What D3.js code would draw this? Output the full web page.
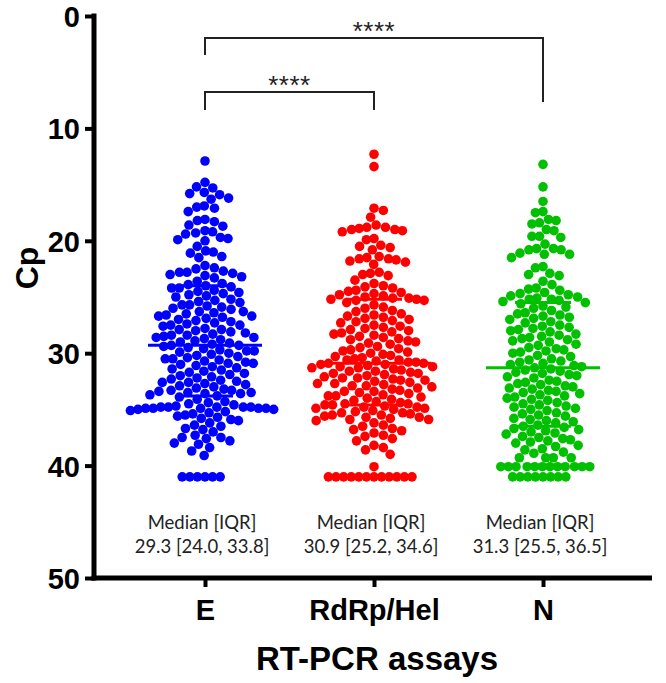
<!DOCTYPE html>
<html>
<head>
<meta charset="utf-8">
<script src="https://cdn.jsdelivr.net/npm/d3@7"></script>
<style>
  html, body { margin: 0; padding: 0; background: #fff; }
  svg { display: block; }
</style>
</head>
<body>
<svg id="chart" width="666" height="683"></svg>
<script>
// ---------------- data ----------------
const categories = ["E", "RdRp/Hel", "N"];
const yTicks = [0, 10, 20, 30, 40, 50];

const valuesE = [
  12.9, 14.8, 15.2, 15.3, 15.7, 15.8, 15.9, 16.2, 16.3, 16.9, 17.0, 17.1, 17.4,
  18.1, 18.2, 18.3, 18.6, 18.7, 19.1, 19.2, 19.3, 19.4, 19.7, 19.8, 19.9, 20.0,
  20.5, 20.9, 21.0, 21.1, 21.4, 21.5, 22.2, 22.4, 22.5, 22.7, 22.8, 22.8, 22.9, 23.0, 23.1, 23.2, 23.3, 23.6, 23.8, 23.9,
  24.0, 24.1, 24.2, 24.2, 24.4, 24.5, 24.6, 24.7, 24.8, 24.9,
  25.0, 25.2, 25.3, 25.4, 25.5, 25.7, 25.7, 25.8, 25.9,
  26.0, 26.1, 26.3, 26.3, 26.4, 26.5, 26.6, 26.7, 26.7, 26.8, 26.9,
  27.0, 27.1, 27.2, 27.3, 27.4, 27.5, 27.5, 27.6, 27.8, 27.9, 27.9,
  28.0, 28.1, 28.2, 28.3, 28.4, 28.4, 28.5, 28.6, 28.6, 28.7, 28.8, 28.9, 29.0,
  29.1, 29.2, 29.3, 29.3, 29.4, 29.5, 29.6, 29.7, 29.8, 29.8, 29.9, 30.0,
  30.1, 30.2, 30.3, 30.4, 30.5, 30.5, 30.6, 30.7, 30.8, 30.9, 30.9,
  31.0, 31.1, 31.2, 31.3, 31.4, 31.5, 31.6, 31.7, 31.8, 31.9,
  32.0, 32.1, 32.2, 32.3, 32.4, 32.5, 32.6, 32.6, 32.7, 32.8, 32.9,
  33.0, 33.1, 33.2, 33.3, 33.3, 33.4, 33.5, 33.5, 33.6, 33.6, 33.7, 33.8, 33.9,
  34.1, 34.3, 34.4, 34.5, 34.6, 34.7, 34.8, 34.8, 34.8, 34.8, 34.8,
  34.9, 34.9, 34.9, 34.9, 34.9, 35.0, 35.0,
  35.1, 35.2, 35.3, 35.4, 35.5, 35.6, 35.7, 35.8, 35.9, 36.0,
  36.2, 36.4, 36.5, 36.7, 36.8, 37.0,
  37.3, 37.5, 37.5, 37.6, 37.8, 38.0,
  38.1, 38.4, 38.7, 39.1,
  41.0, 41.0, 41.0, 41.0, 41.0, 41.0
];

const valuesRdRp = [
  12.3, 13.4,
  17.1, 17.3, 17.9,
  18.6, 18.8, 18.8, 18.9, 19.0, 19.0, 19.1, 19.2,
  19.8, 19.9,
  20.4, 20.5, 20.6, 20.8,
  21.4, 21.5, 21.6, 21.6, 21.7, 21.8, 21.9, 22.1,
  22.8, 22.9, 23.0, 23.1, 23.5, 23.8,
  24.0, 24.1, 24.2, 24.4, 24.5, 24.6, 24.7, 24.8, 24.9,
  25.0, 25.1, 25.1, 25.2, 25.2, 25.3, 25.3, 25.5, 25.7, 25.9,
  26.0, 26.2, 26.3, 26.5, 26.6, 26.7, 26.8, 26.9,
  27.0, 27.1, 27.2, 27.3, 27.5, 27.6, 27.7, 27.8, 27.9, 28.0,
  28.1, 28.2, 28.3, 28.4, 28.5, 28.6, 28.7, 28.8, 28.9,
  29.0, 29.1, 29.2, 29.4, 29.5, 29.6, 29.7, 29.8, 29.9, 30.0,
  30.1, 30.2, 30.3, 30.4, 30.5, 30.6, 30.6, 30.7, 30.8, 30.8, 30.9, 30.9, 31.0, 31.0,
  31.1, 31.2, 31.2, 31.3, 31.3, 31.4, 31.5, 31.6, 31.6, 31.7, 31.8, 31.8, 31.9, 32.0,
  32.1, 32.2, 32.2, 32.3, 32.4, 32.4, 32.5, 32.6, 32.7, 32.7, 32.8, 32.9, 32.9, 33.0,
  33.1, 33.2, 33.3, 33.4, 33.4, 33.5, 33.6, 33.7, 33.8, 33.8, 33.9, 34.0,
  34.1, 34.2, 34.3, 34.4, 34.5, 34.5, 34.6, 34.6, 34.7, 34.8, 34.8, 34.9, 34.9, 35.0,
  35.1, 35.2, 35.3, 35.3, 35.4, 35.5, 35.5, 35.6, 35.7, 35.7, 35.8, 35.9, 35.9, 36.0,
  36.2, 36.4, 36.5, 36.7, 36.8, 36.9,
  37.1, 37.3, 37.4, 37.6, 37.8,
  38.2, 38.4, 38.6, 39.0, 40.1,
  41.0, 41.0, 41.0, 41.0, 41.0, 41.0, 41.0, 41.0, 41.0, 41.0, 41.0, 41.0
];

const valuesN = [
  13.2, 15.2, 16.5, 17.4, 17.5,
  18.1, 18.2, 18.4, 18.5, 19.0, 19.1, 19.6, 19.6, 19.7,
  20.3, 20.7, 20.7, 20.8, 20.8, 21.1, 21.2, 21.2, 21.5,
  22.3, 22.4, 22.9, 23.0, 23.1, 23.6, 23.9,
  24.2, 24.3, 24.4, 24.6, 24.7, 24.8, 24.9,
  25.0, 25.1, 25.2, 25.2, 25.3, 25.4, 25.5, 25.6, 25.8, 25.9,
  26.0, 26.2, 26.4, 26.5, 26.6, 26.7, 26.8, 26.9,
  27.0, 27.2, 27.3, 27.5, 27.6, 27.7, 27.8, 27.9,
  28.0, 28.1, 28.3, 28.4, 28.5, 28.6, 28.7, 28.8, 28.9,
  29.0, 29.2, 29.3, 29.5, 29.6, 29.7, 29.8, 29.9,
  30.0, 30.2, 30.3, 30.5, 30.6, 30.7, 30.8, 30.9,
  31.0, 31.1, 31.2, 31.3, 31.4, 31.5, 31.6, 31.7, 31.8, 31.9,
  32.0, 32.1, 32.2, 32.4, 32.5, 32.6, 32.7, 32.8, 32.9, 33.0,
  33.1, 33.2, 33.3, 33.4, 33.5, 33.6, 33.7, 33.8, 33.9, 34.0,
  34.1, 34.2, 34.4, 34.5, 34.6, 34.7, 34.8, 34.9, 35.0,
  35.1, 35.3, 35.4, 35.5, 35.6, 35.8, 35.9, 36.0,
  36.1, 36.2, 36.4, 36.5, 36.6, 36.7, 36.8, 36.9, 37.0,
  37.1, 37.2, 37.4, 37.5, 37.6, 37.7, 37.8, 37.9,
  38.0, 38.2, 38.3, 38.5, 38.6, 38.8, 38.9,
  39.3, 39.3, 39.3, 39.3,
  40.1, 40.1, 40.1, 40.1, 40.1, 40.1, 40.1, 40.1, 40.1, 40.1, 40.1, 40.1,
  41.0, 41.0, 41.0, 41.0, 41.0, 41.0, 41.0, 41.0
];

const seriesValues = [valuesE, valuesRdRp, valuesN];
const medians = [29.3, 30.9, 31.3];
const q1s = [24.0, 25.2, 25.5];
const q3s = [33.8, 34.6, 36.5];
const seriesColors = ["#0000ff", "#ff0000", "#00c000"];
const comparisons = [
  { from: "E", to: "RdRp/Hel", label: "****" },
  { from: "E", to: "N", label: "****" }
];
const yTitle = "Cp";
const xTitle = "RT-PCR assays";

// ---------------- layout ----------------
const svg = d3.select("#chart");
const axisX = 94, axisBottom = 578, axisTop = 16, axisRight = 652;
const boldFont = "'Liberation Sans', Arial, sans-serif";

const y = d3.scaleLinear().domain([0, 50]).range([axisTop, axisBottom]);
const x = d3.scalePoint().domain(categories).range([205, 543]);

// beeswarm layout (greedy, closest-to-centre, top-down)
const R = 4.8, D = 9.6, DSAME = 7.6, SAME_EPS = 1.5;
function need(dy) {
  return Math.abs(dy) < SAME_EPS ? DSAME : Math.sqrt(Math.max(0, D * D - dy * dy));
}
function swarm(values) {
  const pts = values.map(v => ({ v, y: y(v), x: 0 })).sort((a, b) => a.y - b.y);
  const placed = [];
  let flip = 1;
  for (const p of pts) {
    const near = placed.filter(q => Math.abs(q.y - p.y) < D);
    const cands = [0];
    near.forEach(q => {
      const dx = need(q.y - p.y);
      cands.push(q.x + dx, q.x - dx);
    });
    cands.sort((a, b) => (Math.abs(a) - Math.abs(b)) || (flip * (a - b)));
    for (const c of cands) {
      if (near.every(q => Math.abs(q.x - c) >= need(q.y - p.y) - 1e-6)) { p.x = c; break; }
    }
    flip = -flip;
    placed.push(p);
  }
  return pts;
}

// dots
categories.forEach((cat, i) => {
  const pts = swarm(seriesValues[i]);
  svg.append("g").selectAll("circle").data(pts).join("circle")
    .attr("cx", d => x(cat) + d.x)
    .attr("cy", d => d.y)
    .attr("r", R)
    .attr("fill", seriesColors[i]);
});

// median & IQR lines
categories.forEach((cat, i) => {
  const g = svg.append("g").attr("stroke", seriesColors[i]).attr("stroke-width", 3);
  g.append("line").attr("x1", x(cat) - 57).attr("x2", x(cat) + 57)
    .attr("y1", y(medians[i])).attr("y2", y(medians[i]));
  [q1s[i], q3s[i]].forEach(q => {
    g.append("line").attr("x1", x(cat) - 28).attr("x2", x(cat) + 28)
      .attr("y1", y(q)).attr("y2", y(q));
  });
});

// y axis
const yAxis = d3.axisLeft(y).tickValues(yTicks).tickSize(9).tickPadding(5);
const gy = svg.append("g").attr("transform", `translate(${axisX},0)`).call(yAxis);
gy.select(".domain").attr("stroke", "#000").attr("stroke-width", 5)
  .attr("d", `M0,${axisTop - 2.5}V${axisBottom + 2.5}`);
gy.selectAll(".tick line").attr("stroke", "#000").attr("stroke-width", 4);
gy.selectAll(".tick text").attr("font-family", boldFont).attr("font-weight", "bold")
  .attr("font-size", 29).attr("fill", "#000").attr("dy", "0.36em");

// x axis
const xAxis = d3.axisBottom(x).tickSize(9).tickPadding(12);
const gx = svg.append("g").attr("transform", `translate(0,${axisBottom})`).call(xAxis);
gx.select(".domain").attr("stroke", "#000").attr("stroke-width", 5)
  .attr("d", `M${axisX - 2.5},0H${axisRight}`);
gx.selectAll(".tick line").attr("stroke", "#000").attr("stroke-width", 4);
gx.selectAll(".tick text").attr("font-family", boldFont).attr("font-weight", "bold")
  .attr("font-size", 29).attr("fill", "#000");

// axis titles
svg.append("text").attr("transform", "translate(38,268) rotate(-90)")
  .attr("text-anchor", "middle").attr("font-family", boldFont).attr("font-weight", "bold")
  .attr("font-size", 32).text(yTitle);
svg.append("text").attr("x", 377).attr("y", 670)
  .attr("text-anchor", "middle").attr("font-family", boldFont).attr("font-weight", "bold")
  .attr("font-size", 33).text(xTitle);

// median [IQR] annotations
categories.forEach((cat, i) => {
  const t = svg.append("text").attr("text-anchor", "middle")
    .attr("font-family", "Lato, 'Open Sans', sans-serif").attr("font-size", 18.5).attr("fill", "#222");
  t.append("tspan").attr("x", x(cat) - 3).attr("y", 529).text("Median [IQR]");
  t.append("tspan").attr("x", x(cat) - 3).attr("y", 553)
    .text(`${medians[i].toFixed(1)} [${q1s[i].toFixed(1)}, ${q3s[i].toFixed(1)}]`);
});

// significance brackets
const bracketLevels = [{ yb: 92, l: 110, r: 110, ty: 94 }, { yb: 38, l: 55, r: 102, ty: 40 }];
comparisons.forEach((c, i) => {
  const b = bracketLevels[i];
  const x1 = x(c.from), x2 = x(c.to);
  svg.append("path")
    .attr("d", `M${x1},${b.l}V${b.yb}H${x2}V${b.r}`)
    .attr("fill", "none").attr("stroke", "#222").attr("stroke-width", 2);
  svg.append("text").attr("x", (x1 + x2) / 2).attr("y", b.ty)
    .attr("text-anchor", "middle").attr("font-family", boldFont)
    .attr("font-size", 26).attr("letter-spacing", 0.5).attr("fill", "#222").text(c.label);
});
</script>
</body>
</html>
